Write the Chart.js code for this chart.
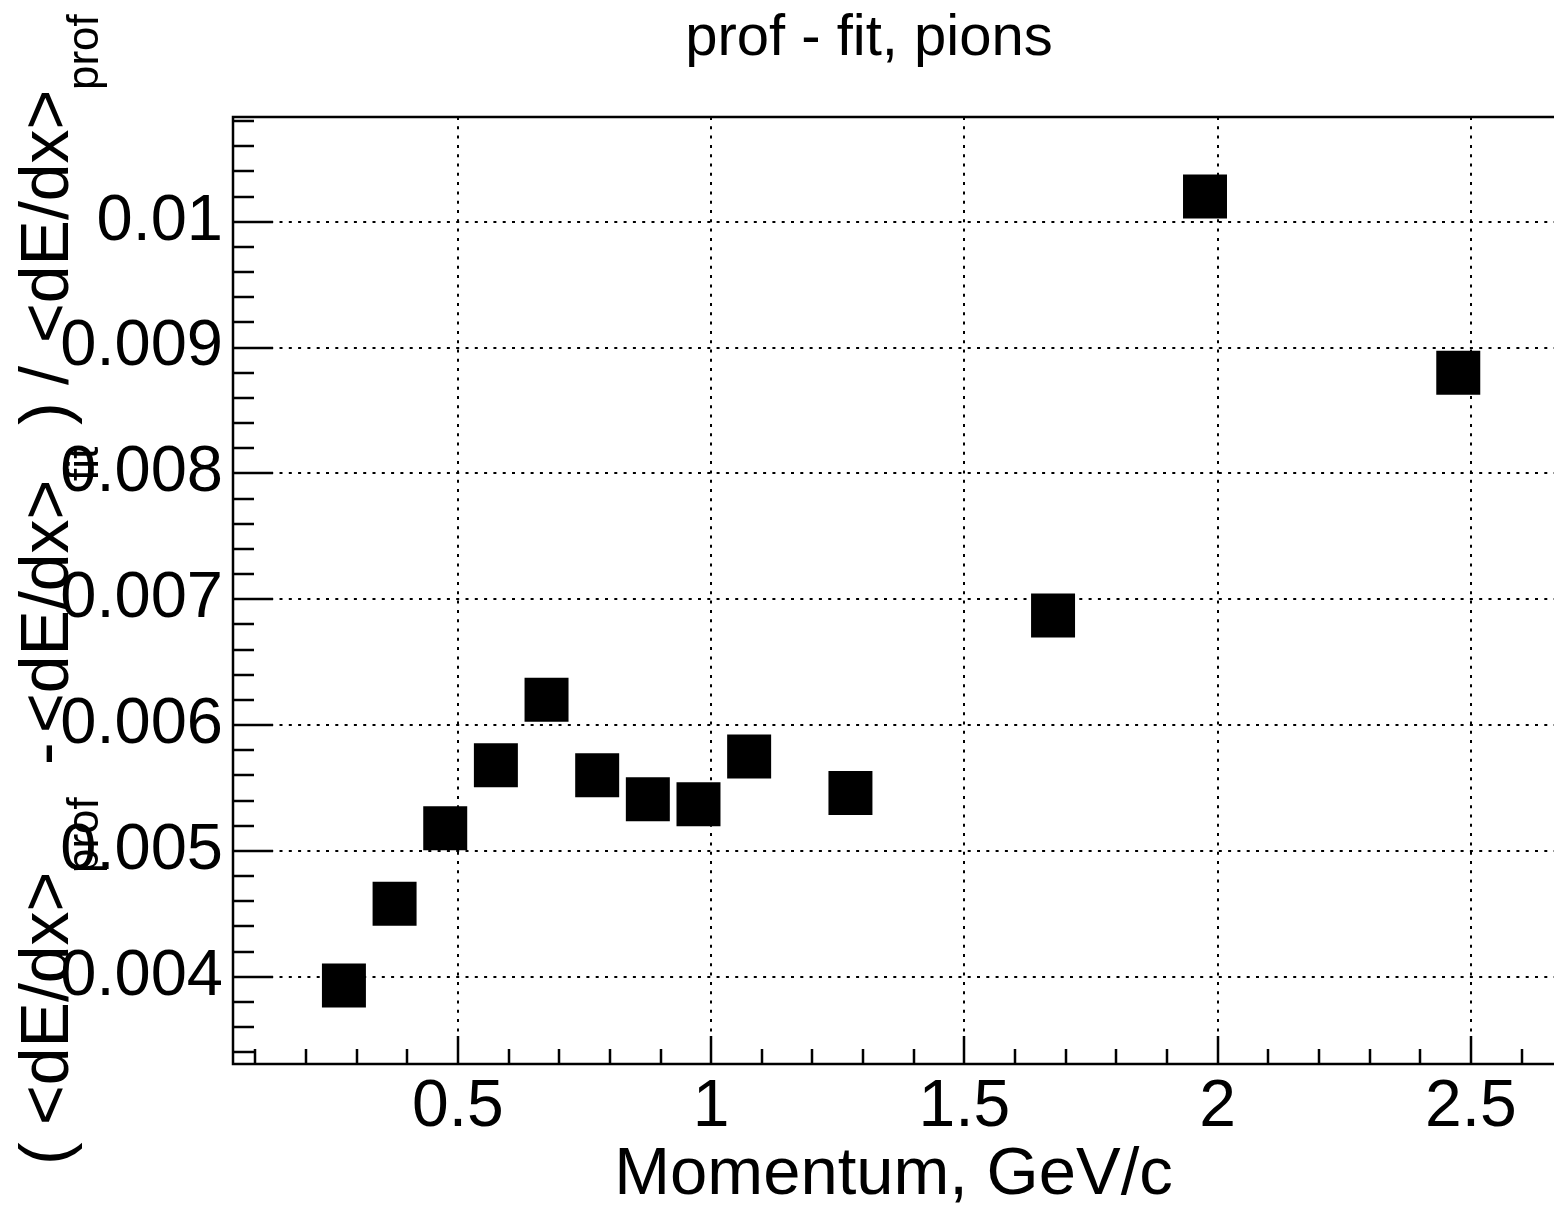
<!DOCTYPE html>
<html>
<head>
<meta charset="utf-8">
<title>prof - fit, pions</title>
<script src="https://cdn.jsdelivr.net/npm/chart.js@4.4.1/dist/chart.umd.min.js"></script>
<style>
  html, body { margin: 0; padding: 0; background: #fff; }
  #wrap { width: 1554px; height: 1211px; }
</style>
</head>
<body>
<div id="wrap"><canvas id="chart" width="1554" height="1211"></canvas></div>
<script>
(function () {
  'use strict';

  // data
  const momentum = [0.275, 0.375, 0.475, 0.575, 0.675, 0.775, 0.875, 0.975, 1.075, 1.275, 1.675, 1.975, 2.475];
  const relDiff = [0.00393, 0.00458, 0.00518, 0.00568, 0.00620, 0.00560, 0.00541, 0.00537, 0.00575, 0.00546, 0.00687, 0.01020, 0.00880];

  const xTickValues = [0.5, 1, 1.5, 2, 2.5];
  const xTickLabels = ['0.5', '1', '1.5', '2', '2.5'];
  const yTickValues = [0.004, 0.005, 0.006, 0.007, 0.008, 0.009, 0.01];
  const yTickLabels = ['0.004', '0.005', '0.006', '0.007', '0.008', '0.009', '0.01'];

  const X_MIN = 0.056, X_MAX = 2.664;
  const Y_MIN = 0.003306, Y_MAX = 0.010832;

  const FONT = '"Liberation Sans", Arial, Helvetica, sans-serif';
  const TITLE = 'prof - fit, pions';
  const X_TITLE = 'Momentum, GeV/c';

  // y title as ROOT latex pieces: ( <dE/dx>_prof - <dE/dx>_fit ) / <dE/dx>_prof
  const yTitlePieces = [
    { text: '(', at: 1165, sub: false },
    { text: '<dE/dx>', at: 1125, sub: false },
    { text: 'prof', at: 873, sub: true },
    { text: '-', at: 765, sub: false },
    { text: '<dE/dx>', at: 733, sub: false },
    { text: 'fit', at: 481, sub: true },
    { text: ')', at: 425, sub: false },
    { text: '/', at: 385, sub: false },
    { text: '<dE/dx>', at: 343, sub: false },
    { text: 'prof', at: 90, sub: true }
  ];

  function stepValues(min, max, step) {
    const out = [];
    for (let i = Math.ceil(min / step - 1e-9); i * step <= max + 1e-12; i++) out.push(i * step);
    return out;
  }

  function isMajor(v, majors) {
    return majors.some(m => Math.abs(m - v) < 1e-9);
  }

  const rootDecor = {
    id: 'rootDecor',
    afterDatasetsDraw(chart) {
      const { ctx, chartArea: a, scales: { x, y } } = chart;
      ctx.save();
      ctx.strokeStyle = '#000';
      ctx.lineWidth = 2.5;
      ctx.setLineDash([]);
      ctx.beginPath();
      ctx.moveTo(a.right + 2, a.top);
      ctx.lineTo(a.left, a.top);
      ctx.lineTo(a.left, a.bottom);
      ctx.lineTo(a.right + 2, a.bottom);

      stepValues(Y_MIN, Y_MAX, 0.0002).forEach(v => {
        const py = Math.round(y.getPixelForValue(v));
        const len = isMajor(v, yTickValues) ? 40 : 21;
        ctx.moveTo(a.left, py);
        ctx.lineTo(a.left + len, py);
      });
      stepValues(X_MIN, X_MAX, 0.1).forEach(v => {
        const px = Math.round(x.getPixelForValue(v));
        const len = isMajor(v, xTickValues) ? 28 : 15;
        ctx.moveTo(px, a.bottom);
        ctx.lineTo(px, a.bottom - len);
      });
      ctx.stroke();

      // main title
      ctx.fillStyle = '#000';
      ctx.font = '58px ' + FONT;
      ctx.textAlign = 'center';
      ctx.textBaseline = 'alphabetic';
      ctx.fillText(TITLE, 869, 55);

      // rotated y title
      yTitlePieces.forEach(p => {
        ctx.save();
        ctx.translate(p.sub ? 98 : 68, p.at);
        ctx.rotate(-Math.PI / 2);
        ctx.font = (p.sub ? '44px ' : '68px ') + FONT;
        ctx.textAlign = 'left';
        ctx.fillText(p.text, 0, 0);
        ctx.restore();
      });
      ctx.restore();
    }
  };

  const ctx = document.getElementById('chart').getContext('2d');
  new Chart(ctx, {
    type: 'scatter',
    data: {
      datasets: [{
        label: 'prof - fit',
        data: momentum.map((m, i) => ({ x: m, y: relDiff[i] })),
        pointStyle: 'rect',
        pointRadius: 31.1,
        pointHoverRadius: 31.1,
        backgroundColor: '#000',
        borderColor: '#000',
        borderWidth: 0
      }]
    },
    options: {
      responsive: false,
      devicePixelRatio: 1,
      animation: false,
      layout: { autoPadding: false, padding: { top: 117, left: 0, right: 0, bottom: 0 } },
      plugins: {
        legend: { display: false },
        tooltip: { enabled: false },
        title: { display: false }
      },
      scales: {
        x: {
          type: 'linear',
          min: X_MIN,
          max: X_MAX,
          afterBuildTicks: s => { s.ticks = xTickValues.map(v => ({ value: v })); },
          afterFit: s => { s.height = 147; s.paddingLeft = 0; s.paddingRight = 0; },
          grid: { color: '#000', lineWidth: 2, drawTicks: false },
          border: { display: false, dash: [3, 6.3] },
          ticks: {
            padding: 4,
            maxRotation: 0,
            color: '#000',
            font: { family: FONT, size: 66 },
            callback: v => xTickLabels[xTickValues.indexOf(v)]
          },
          title: {
            display: true,
            text: X_TITLE,
            color: '#000',
            align: 'center',
            padding: { top: 0, bottom: 0 },
            font: { family: FONT, size: 67, lineHeight: 1.05 }
          }
        },
        y: {
          type: 'linear',
          min: Y_MIN,
          max: Y_MAX,
          afterBuildTicks: s => { s.ticks = yTickValues.map(v => ({ value: v })); },
          afterFit: s => { s.width = 233; s.paddingTop = 0; s.paddingBottom = 0; },
          grid: { color: '#000', lineWidth: 2, drawTicks: false },
          border: { display: false, dash: [3, 6.3] },
          ticks: {
            padding: 10,
            color: '#000',
            font: { family: FONT, size: 65 },
            callback: v => yTickLabels[yTickValues.indexOf(v)]
          }
        }
      }
    },
    plugins: [rootDecor]
  });
})();
</script>
</body>
</html>
